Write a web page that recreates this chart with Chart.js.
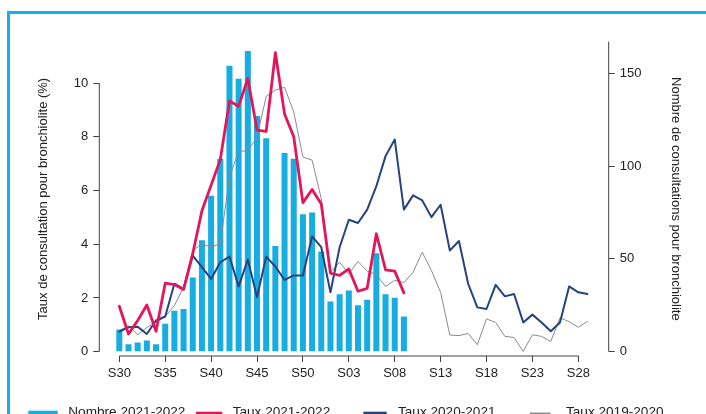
<!DOCTYPE html>
<html lang="fr">
<head>
<meta charset="utf-8">
<title>Bronchiolite</title>
<script src="https://cdn.jsdelivr.net/npm/chart.js@4.4.1/dist/chart.umd.min.js"></script>
<style>
    html, body { margin: 0; padding: 0; background: #fff; }
    #wrap { position: relative; width: 706px; height: 414px; overflow: hidden; }
    #cadre { position: absolute; left: 7px; top: 11px; width: 800px; height: 500px; border-left: 3px solid #12b0e6; border-top: 3px solid #12b0e6; }
    #graph { position: absolute; left: 0; top: 0; }
</style>
</head>
<body>
<div id="wrap">
    <div id="cadre"></div>
    <canvas id="graph" width="706" height="414"></canvas>
</div>
<script>
const semaines = [
    'S30', 'S31', 'S32', 'S33', 'S34', 'S35', 'S36', 'S37', 'S38', 'S39', 'S40', 'S41',
    'S42', 'S43', 'S44', 'S45', 'S46', 'S47', 'S48', 'S49', 'S50', 'S51', 'S52',
    'S01', 'S02', 'S03', 'S04', 'S05', 'S06', 'S07', 'S08', 'S09', 'S10', 'S11', 'S12',
    'S13', 'S14', 'S15', 'S16', 'S17', 'S18', 'S19', 'S20', 'S21', 'S22', 'S23', 'S24',
    'S25', 'S26', 'S27', 'S28', 'S29'
];
const ticksSemaines = ['S30', 'S35', 'S40', 'S45', 'S50', 'S03', 'S08', 'S13', 'S18', 'S23', 'S28'];
const ticksTaux = [0, 2, 4, 6, 8, 10];
const ticksNombre = [0, 50, 100, 150];

// Nombre de consultations (axe de droite), saison 2021-2022
const nombre2122 = [12, 4, 5, 6, 4, 15, 22, 23, 40, 60, 84, 104, 154, 147, 162, 127, 115, 57, 107, 104,
    74, 75, 54, 27, 31, 33, 25, 28, 53, 31, 29, 19];

// Taux de consultation (%) (axe de gauche)
const taux2122 = [1.69, 0.66, 1.16, 1.74, 0.76, 2.55, 2.5, 2.31, 3.65, 5.25, 6.2, 7.15, 9.33, 9.14, 10.17,
    8.25, 8.2, 11.13, 8.85, 8.0, 5.55, 6.04, 5.5, 2.92, 2.84, 3.08, 2.25, 2.36, 4.39, 3.05, 3.0, 2.19];
const taux2021 = [0.75, 0.91, 0.93, 0.66, 1.16, 1.31, 2.53, 2.34, 3.58, 3.15, 2.71, 3.33, 3.54, 2.43, 3.43,
    2.03, 3.54, 3.17, 2.67, 2.84, 2.84, 4.29, 3.89, 2.21, 3.89, 4.91, 4.79, 5.29, 6.16, 7.28, 7.9, 5.29,
    5.82, 5.63, 5.01, 5.47, 3.77, 4.12, 2.53, 1.65, 1.59, 2.49, 2.06, 2.15, 1.09, 1.38, 1.09, 0.76, 1.09,
    2.43, 2.21, 2.15];
const taux1920 = [0.78, 0.97, 0.63, 0.9, 1.09, 1.31, 1.72, 2.4, 3.77, 4.02, 3.89, 4.02, 6.5, 7.47, 7.47,
    8.0, 9.5, 9.74, 9.84, 8.93, 7.25, 7.13, 5.7, 2.95, 3.33, 2.9, 3.36, 3.0, 2.87, 2.43, 2.66, 2.57, 2.96,
    3.7, 3.02, 2.21, 0.62, 0.6, 0.68, 0.26, 1.22, 1.09, 0.57, 0.53, 0.01, 0.63, 0.57, 0.38, 1.26, 1.12,
    0.91, 1.13];

const couleurAxe = '#404040';
const couleurTexte = '#222';
const police = "'Liberation Sans', Arial, Helvetica, sans-serif";

Chart.defaults.font.family = police;
Chart.defaults.color = couleurTexte;

const enPoints = valeurs => valeurs.map((v, i) => ({ x: i, y: v }));

// Axes "à la R" : la ligne ne va que du premier au dernier repère
const axesR = {
    id: 'axesR',
    afterDraw(chart) {
        const { ctx, chartArea, scales } = chart;
        const { x, y, y1 } = scales;
        ctx.save();
        ctx.strokeStyle = couleurAxe;
        ctx.lineWidth = 1;
        ctx.beginPath();
        ctx.moveTo(x.getPixelForValue(x.ticks[0].value), chartArea.bottom);
        ctx.lineTo(x.getPixelForValue(x.ticks[x.ticks.length - 1].value), chartArea.bottom);
        ctx.moveTo(chartArea.left, y.getPixelForValue(ticksTaux[0]));
        ctx.lineTo(chartArea.left, y.getPixelForValue(ticksTaux[ticksTaux.length - 1]));
        ctx.moveTo(chartArea.right, y1.getPixelForValue(ticksNombre[0]));
        ctx.lineTo(chartArea.right, chartArea.top);
        ctx.stroke();
        ctx.restore();
    }
};

// Légende en bas (coupée par le bord de l'image, comme sur l'original)
const legendeBas = {
    id: 'legendeBas',
    afterDraw(chart) {
        const { ctx } = chart;
        const cases = [
            { x: 28.3, w: 29.4, texte: 68.3 },
            { x: 196, w: 26.3, texte: 232.7, epaisseur: 5, y: 414.2 },
            { x: 363.3, w: 23.4, texte: 398, epaisseur: 3, y: 413.2 },
            { x: 530, w: 20.5, texte: 566, epaisseur: 1.5, y: 413.3 }
        ];
        ctx.save();
        ctx.font = '13.6px ' + police;
        ctx.textBaseline = 'alphabetic';
        chart.data.datasets.forEach((ds, i) => {
            const c = cases[i];
            if (ds.type === 'bar') {
                ctx.fillStyle = ds.backgroundColor;
                ctx.fillRect(c.x, 410.7, c.w, 10);
            } else {
                ctx.strokeStyle = ds.borderColor;
                ctx.lineWidth = c.epaisseur;
                ctx.beginPath();
                ctx.moveTo(c.x, c.y);
                ctx.lineTo(c.x + c.w, c.y);
                ctx.stroke();
            }
            ctx.fillStyle = couleurTexte;
            ctx.fillText(ds.label, c.texte, 416.4);
        });
        ctx.restore();
    }
};

const ligne = (label, valeurs, couleur, epaisseur, ordre) => ({
    type: 'line',
    label,
    data: enPoints(valeurs),
    yAxisID: 'y',
    borderColor: couleur,
    backgroundColor: couleur,
    borderWidth: epaisseur,
    borderJoinStyle: 'round',
    borderCapStyle: 'round',
    pointRadius: 0,
    tension: 0,
    fill: false,
    order: ordre
});

new Chart(document.getElementById('graph'), {
    type: 'bar',
    data: {
        datasets: [
            {
                type: 'bar',
                label: 'Nombre 2021-2022',
                data: enPoints(nombre2122),
                yAxisID: 'y1',
                backgroundColor: '#17ade2',
                borderWidth: 0,
                barPercentage: 0.82,
                categoryPercentage: 0.8,
                order: 4
            },
            ligne('Taux 2021-2022', taux2122, '#e3165c', 2.8, 1),
            ligne('Taux 2020-2021', taux2021, '#24437f', 2, 2),
            ligne('Taux 2019-2020', taux1920, '#8a8a8a', 1, 3)
        ]
    },
    options: {
        responsive: false,
        animation: false,
        events: [],
        layout: { padding: { top: 41.7, left: 0, right: 0, bottom: 0 } },
        plugins: {
            legend: { display: false },
            tooltip: { enabled: false }
        },
        scales: {
            x: {
                type: 'linear',
                min: -2.18,
                max: 53.31,
                offset: false,
                grid: { offset: false, drawOnChartArea: false, tickLength: 6, color: couleurAxe },
                border: { display: false },
                ticks: {
                    font: { size: 13 },
                    padding: 4,
                    autoSkip: false,
                    maxRotation: 0,
                    minRotation: 0,
                    callback: v => semaines[v]
                },
                afterBuildTicks: s => { s.ticks = ticksSemaines.map(l => ({ value: semaines.indexOf(l) })); },
                afterFit: s => { s.height = 58; }
            },
            y: {
                type: 'linear',
                position: 'left',
                min: -0.16,
                max: 11.54,
                grid: { drawOnChartArea: false, tickLength: 6, color: couleurAxe },
                border: { display: false },
                ticks: { font: { size: 13 }, padding: 5 },
                afterBuildTicks: s => { s.ticks = ticksTaux.map(v => ({ value: v })); },
                afterFit: s => { s.width = 99.3; },
                title: {
                    display: true,
                    text: 'Taux de consultation pour bronchiolite (%)',
                    font: { size: 13 },
                    padding: { top: 36, bottom: 0 }
                }
            },
            y1: {
                type: 'linear',
                position: 'right',
                min: -2.32,
                max: 167,
                grid: { drawOnChartArea: false, tickLength: 6, color: couleurAxe },
                border: { display: false },
                ticks: { font: { size: 13 }, padding: 5 },
                afterBuildTicks: s => { s.ticks = ticksNombre.map(v => ({ value: v })); },
                afterFit: s => { s.width = 97.3; },
                title: {
                    display: true,
                    text: 'Nombre de consultations pour bronchiolite',
                    font: { size: 13 },
                    padding: { top: 23, bottom: 0 }
                }
            }
        }
    },
    plugins: [axesR, legendeBas]
});
</script>
</body>
</html>
